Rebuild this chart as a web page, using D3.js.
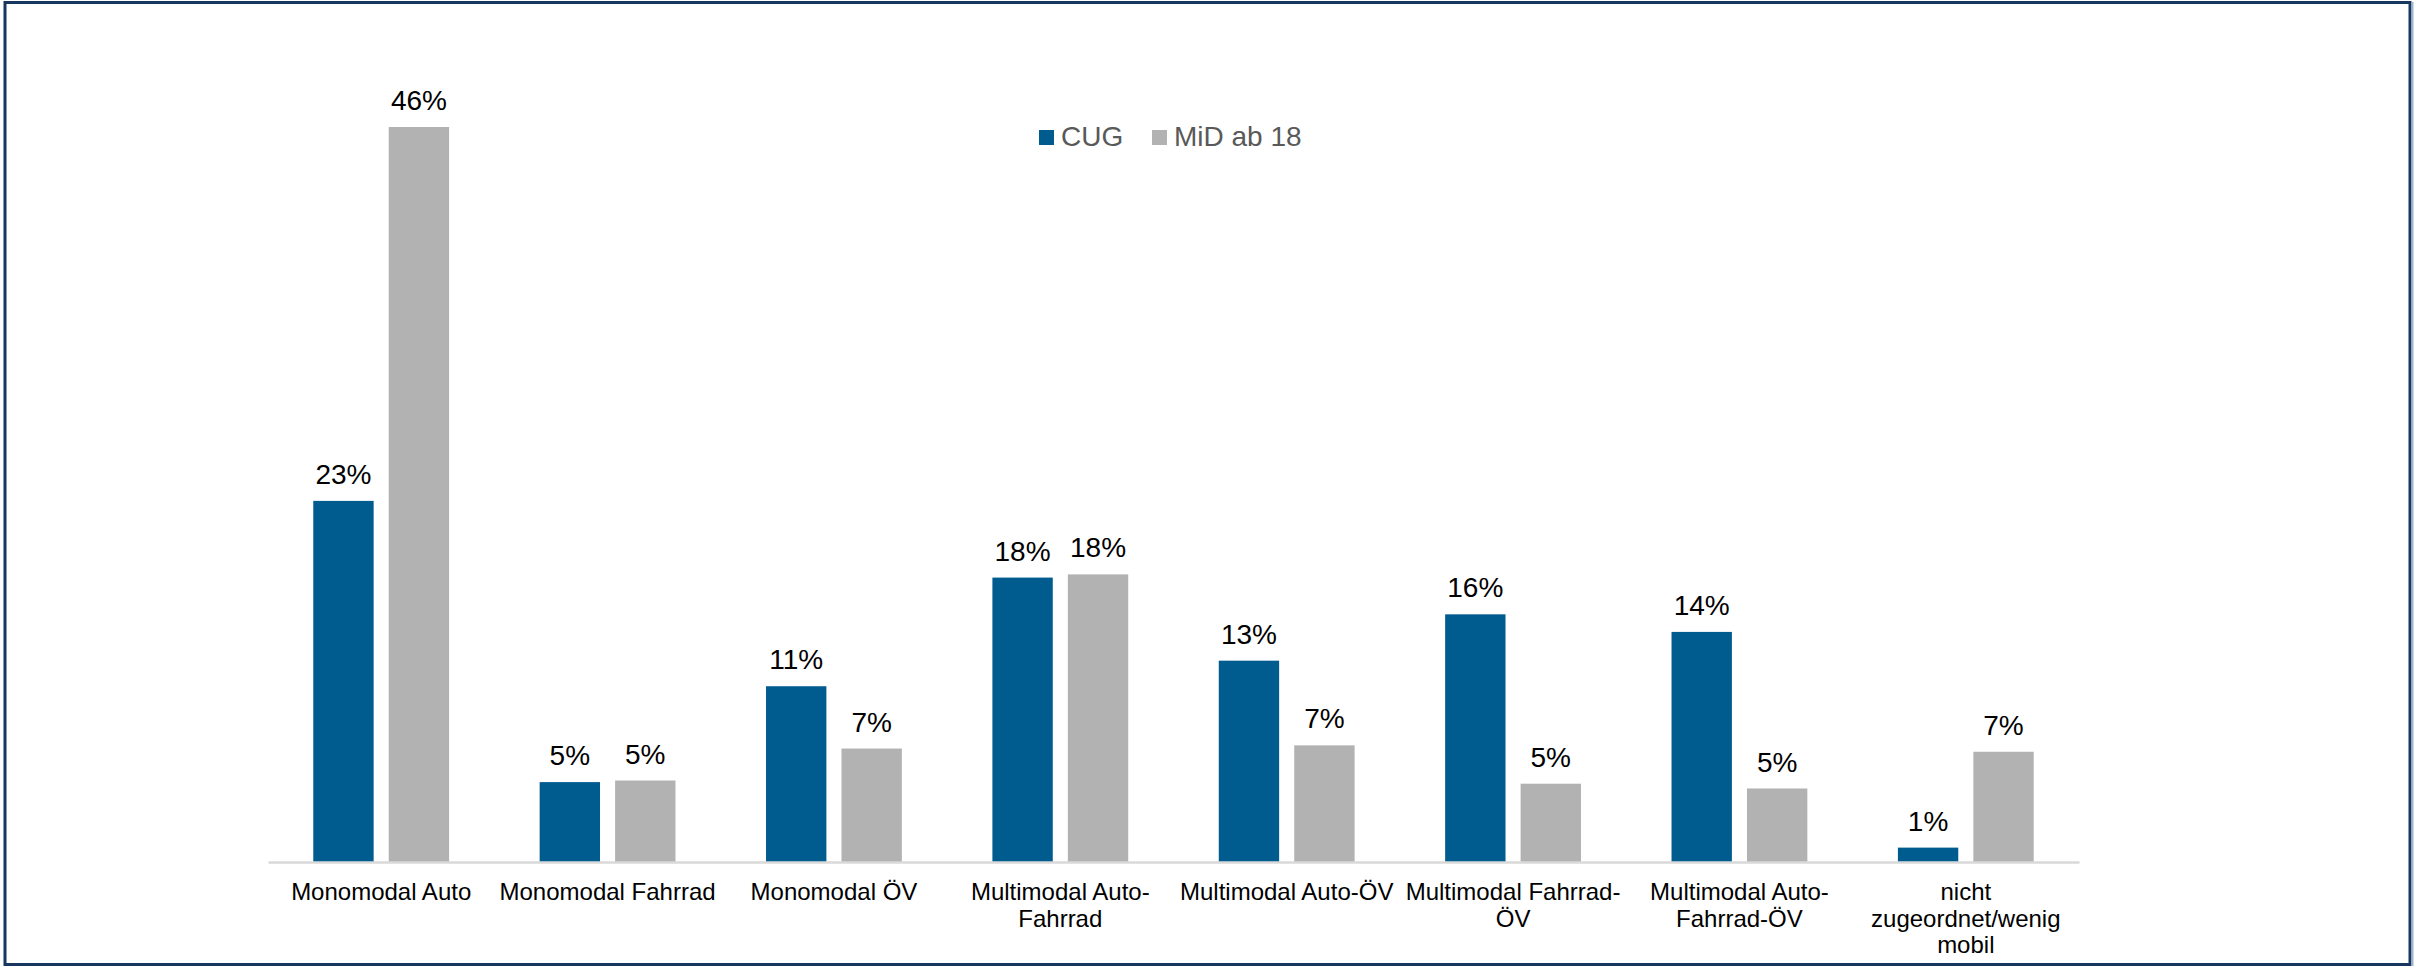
<!DOCTYPE html>
<html>
<head>
<meta charset="utf-8">
<script src="https://cdn.jsdelivr.net/npm/d3@7"></script>
<style>
  html, body { margin: 0; padding: 0; background: #fff; overflow: hidden; }
  svg { display: block; width: 100vw; height: 100vh; font-family: Arial, "Liberation Sans", sans-serif; }
</style>
</head>
<body>
<svg viewBox="0 0 2425 967" preserveAspectRatio="xMidYMid meet"></svg>
<script>
const categories = [
  'Monomodal Auto',
  'Monomodal Fahrrad',
  'Monomodal ÖV',
  'Multimodal Auto-Fahrrad',
  'Multimodal Auto-ÖV',
  'Multimodal Fahrrad-ÖV',
  'Multimodal Auto-Fahrrad-ÖV',
  'nicht zugeordnet/wenig mobil'
];

// tick labels, wrapped the way the picture wraps them
const tickLabels = [
  ['Monomodal Auto'],
  ['Monomodal Fahrrad'],
  ['Monomodal ÖV'],
  ['Multimodal Auto-', 'Fahrrad'],
  ['Multimodal Auto-ÖV'],
  ['Multimodal Fahrrad-', 'ÖV'],
  ['Multimodal Auto-', 'Fahrrad-ÖV'],
  ['nicht', 'zugeordnet/wenig', 'mobil']
];

const seriesNames = ['CUG', 'MiD ab 18'];
const cugValues = [22.6, 5.0, 11.0, 17.8, 12.6, 15.5, 14.4, 0.9];
const midValues = [46.0, 5.1, 7.1, 18.0, 7.3, 4.9, 4.6, 6.9];
const colors = ['#005b8f', '#b2b2b2'];

const svg = d3.select('svg');
const width = 2425;
const height = 967;

const margin = { top: 127, right: 346, bottom: 105, left: 268 };
const innerWidth = width - margin.left - margin.right;
const innerHeight = height - margin.top - margin.bottom;

const data = categories.map((c, i) => ({
  category: c,
  values: [cugValues[i], midValues[i]]
}));

const xScale = d3.scaleBand()
  .domain(categories)
  .range([0, innerWidth]);

const groupWidth = xScale.bandwidth() * 0.6;
const x1 = d3.scaleBand()
  .domain(seriesNames)
  .range([(xScale.bandwidth() - groupWidth) / 2, (xScale.bandwidth() + groupWidth) / 2])
  .paddingInner(0.2);

const yScale = d3.scaleLinear()
  .domain([0, 46])
  .range([innerHeight, 0]);

const g = svg.append('g')
  .attr('transform', `translate(${margin.left},${margin.top})`);

const groups = g.selectAll('.group')
  .data(data)
  .enter()
  .append('g')
  .attr('class', 'group')
  .attr('transform', d => `translate(${xScale(d.category)},0)`);

const bars = groups.selectAll('.bar')
  .data(d => d.values.map((v, i) => ({ series: seriesNames[i], value: v, i })))
  .enter();

bars.append('rect')
  .attr('x', d => x1(d.series))
  .attr('y', d => yScale(d.value))
  .attr('width', x1.bandwidth())
  .attr('height', d => innerHeight - yScale(d.value))
  .attr('fill', d => colors[d.i]);

// value labels
bars.append('text')
  .text(d => Math.round(d.value) + '%')
  .attr('x', d => x1(d.series) + x1.bandwidth() / 2)
  .attr('y', d => yScale(d.value) - 17)
  .attr('text-anchor', 'middle')
  .attr('font-size', 28)
  .attr('fill', '#000');

// x-axis, only the line
const xAxis = d3.axisBottom(xScale)
  .tickSize(0)
  .tickSizeOuter(0)
  .tickFormat('');

const xAxisG = g.append('g')
  .call(xAxis)
  .attr('transform', `translate(0, ${innerHeight})`);

xAxisG.select('.domain')
  .attr('stroke', '#d9d9d9')
  .attr('stroke-width', 2.5);
xAxisG.selectAll('.tick').remove();

// category labels, one text per line
const labelLines = [];
categories.forEach((c, i) => {
  tickLabels[i].forEach((line, j) => labelLines.push({ category: c, line, j }));
});

g.selectAll('.cat-label')
  .data(labelLines)
  .enter()
  .append('text')
  .attr('class', 'cat-label')
  .text(d => d.line)
  .attr('x', d => xScale(d.category) + xScale.bandwidth() / 2)
  .attr('y', d => innerHeight + 38 + d.j * 26.5)
  .attr('text-anchor', 'middle')
  .attr('font-size', 24)
  .attr('fill', '#000');

// legend
const legend = svg.append('g')
  .attr('transform', 'translate(1039,130)');
const legendOffsets = [0, 113];

seriesNames.forEach((name, i) => {
  const item = legend.append('g')
    .attr('transform', `translate(${legendOffsets[i]},0)`);
  item.append('rect')
    .attr('width', 15)
    .attr('height', 15)
    .attr('fill', colors[i]);
  item.append('text')
    .text(name)
    .attr('x', 22)
    .attr('y', 16)
    .attr('font-size', 28)
    .attr('fill', '#595959');
});

// frame around the chart
svg.append('rect')
  .attr('x', 5).attr('y', 2.5)
  .attr('width', 2405).attr('height', 962)
  .attr('fill', 'none')
  .attr('stroke', '#17375e')
  .attr('stroke-width', 3);
svg.append('line')
  .attr('x1', 2412.5).attr('x2', 2412.5)
  .attr('y1', 2).attr('y2', 966)
  .attr('stroke', '#9db3d0')
  .attr('stroke-width', 2);
</script>
</body>
</html>
